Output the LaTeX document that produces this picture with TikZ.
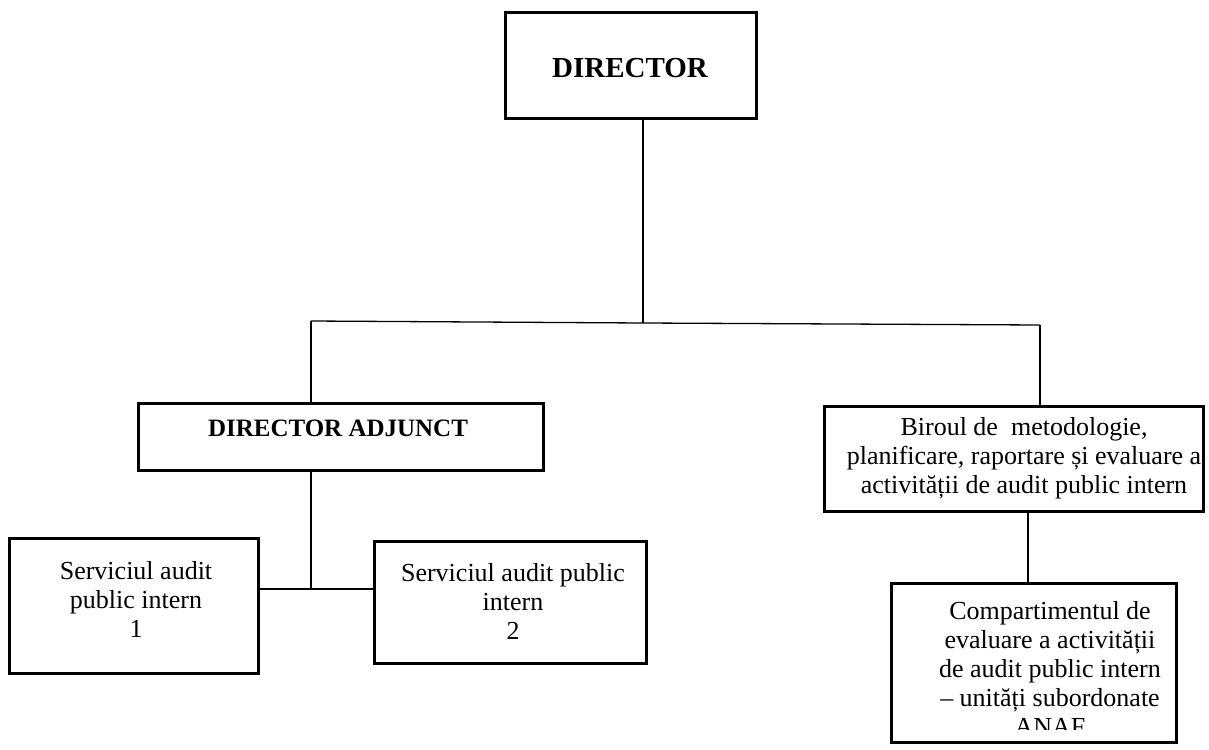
\documentclass[tikz,border=0pt]{standalone}
\usepackage{fontspec}
\setmainfont{Liberation Serif}
\begin{document}
\begin{tikzpicture}[x=1pt,y=-1pt,
  box/.style={draw=black, line width=3.5pt, rectangle, inner sep=0pt, outer sep=0pt},
  conn/.style={draw=black, line width=1.3pt},
  txt/.style={align=center, inner sep=0pt, font=\fontsize{26}{29}\selectfont},
  btxt/.style={align=center, inner sep=0pt}]
\useasboundingbox (0,0) rectangle (1209,749);
% boxes
\node[box, minimum width=251, minimum height=106] (dir) at (631,65.5) {};
\node[box, minimum width=405, minimum height=67] (da) at (341,437) {};
\node[box, minimum width=249, minimum height=135] (s1) at (134,606) {};
\node[box, minimum width=272, minimum height=122] (s2) at (510.5,602.5) {};
\node[box, minimum width=379, minimum height=105] (bir) at (1014,459) {};
\node[box, minimum width=285, minimum height=159] (comp) at (1034,663) {};
% texts
\node[btxt, font=\fontsize{29}{32}\selectfont\bfseries] (dirT) at (630,68) {DIRECTOR};
\node[btxt, font=\fontsize{25}{28}\selectfont\bfseries] (daT) at (338,428) {DIRECTOR ADJUNCT};
\node[txt] (s1T) at (136,599) {Serviciul audit\\public intern\\1};
\node[txt] (s2T) at (513,601) {Serviciul audit public\\intern\\2};
\node[txt] (birT) at (1024,458) {Biroul de\ \ metodologie,\\planificare, raportare și evaluare a\\activității de audit public intern};
\begin{scope}
\clip (890,582) rectangle (1178,729);
\node[txt, anchor=north] (compT) at (1050,601) {Compartimentul de\\evaluare a activității\\de audit public intern\\– unități subordonate\\ANAF};
\end{scope}
% connectors
\coordinate (hub) at (643,323);
\coordinate (hL) at (311,321);
\coordinate (hR) at (1040,325);
\coordinate (jn) at (311,589);
\coordinate (vc) at (1028,560);
\draw[conn] (dir.south -| hub) -- (hub);
\draw[conn] (hL) -- (hub) -- (hR);
\draw[conn] (hL) -- (hL |- da.north);
\draw[conn] (hR) -- (hR |- bir.north);
\draw[conn] (da.south -| jn) -- (jn);
\draw[conn] (s1.east |- jn) -- (s2.west |- jn);
\draw[conn] (bir.south -| vc) -- (comp.north -| vc);
\end{tikzpicture}
\end{document}
